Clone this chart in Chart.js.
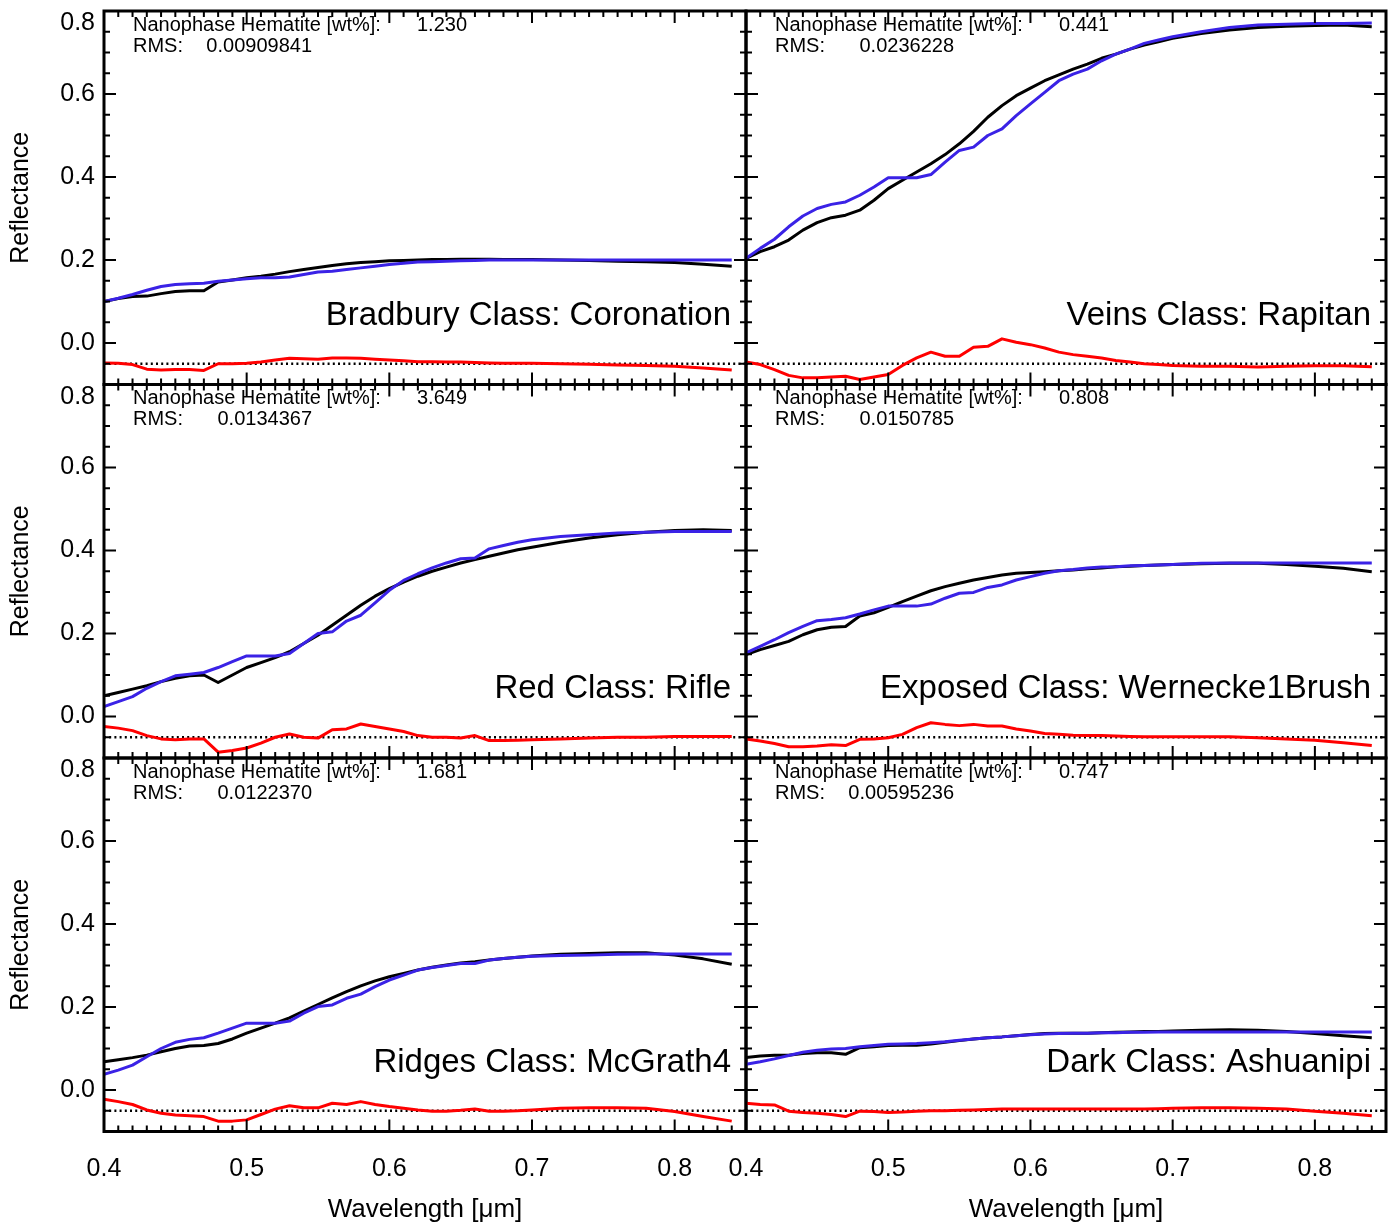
<!DOCTYPE html>
<html>
<head>
<meta charset="utf-8">
<script src="https://cdn.jsdelivr.net/npm/chart.js@4.4.1/dist/chart.umd.min.js"></script>
<style>
  html, body { margin: 0; padding: 0; background: #fff; }
  #wrap { position: relative; width: 1397px; height: 1225px; }
  #wrap canvas { position: absolute; left: 0; top: 0; }
</style>
</head>
<body>
<div id="wrap"></div>
<script>
// wavelength grid [um]
const wavelength = [0.40,0.41,0.42,0.43,0.44,0.45,0.46,0.47,0.48,0.49,0.50,0.51,0.52,0.53,0.54,0.55,0.56,0.57,0.58,0.59,0.60,0.61,0.62,0.63,0.64,0.65,0.66,0.67,0.68,0.69,0.70,0.72,0.74,0.76,0.78,0.80,0.82,0.84];

// Bradbury Class: Coronation
const coronationMeasured = [0.100,0.107,0.112,0.113,0.119,0.124,0.126,0.126,0.147,0.152,0.157,0.161,0.166,0.172,0.177,0.182,0.187,0.191,0.194,0.196,0.198,0.199,0.200,0.201,0.201,0.202,0.202,0.202,0.201,0.201,0.201,0.200,0.199,0.197,0.196,0.194,0.190,0.185];
const coronationModel    = [0.100,0.108,0.117,0.127,0.136,0.141,0.143,0.144,0.149,0.152,0.155,0.157,0.157,0.159,0.165,0.171,0.173,0.177,0.181,0.185,0.189,0.192,0.195,0.196,0.197,0.198,0.199,0.200,0.200,0.200,0.200,0.200,0.200,0.200,0.200,0.200,0.200,0.200];
const coronationResidual = [-0.048,-0.049,-0.052,-0.063,-0.065,-0.064,-0.064,-0.066,-0.050,-0.050,-0.049,-0.046,-0.041,-0.037,-0.038,-0.039,-0.036,-0.036,-0.037,-0.039,-0.041,-0.043,-0.045,-0.045,-0.046,-0.046,-0.047,-0.048,-0.049,-0.049,-0.049,-0.050,-0.051,-0.053,-0.054,-0.056,-0.060,-0.065];

// Veins Class: Rapitan
const rapitanMeasured = [0.204,0.220,0.232,0.248,0.272,0.290,0.302,0.308,0.320,0.344,0.372,0.392,0.412,0.432,0.454,0.480,0.510,0.544,0.572,0.596,0.614,0.632,0.646,0.660,0.672,0.686,0.696,0.708,0.718,0.726,0.734,0.746,0.754,0.760,0.763,0.765,0.766,0.762];
const rapitanModel    = [0.204,0.228,0.250,0.280,0.306,0.324,0.334,0.340,0.356,0.376,0.398,0.398,0.398,0.406,0.436,0.464,0.472,0.500,0.516,0.548,0.576,0.604,0.632,0.648,0.660,0.680,0.696,0.708,0.722,0.730,0.738,0.750,0.760,0.766,0.768,0.770,0.770,0.771];
const rapitanResidual = [-0.046,-0.052,-0.064,-0.078,-0.084,-0.084,-0.082,-0.080,-0.088,-0.082,-0.076,-0.054,-0.036,-0.022,-0.032,-0.032,-0.010,-0.008,0.010,0.002,-0.004,-0.012,-0.022,-0.028,-0.032,-0.036,-0.042,-0.046,-0.050,-0.052,-0.054,-0.056,-0.056,-0.058,-0.056,-0.055,-0.055,-0.057];

// Red Class: Rifle
const rifleMeasured = [0.050,0.058,0.066,0.074,0.084,0.092,0.098,0.100,0.082,0.100,0.118,0.130,0.142,0.156,0.176,0.196,0.220,0.244,0.268,0.290,0.308,0.324,0.338,0.350,0.360,0.370,0.378,0.386,0.394,0.402,0.408,0.420,0.430,0.438,0.444,0.448,0.450,0.448];
const rifleModel    = [0.024,0.036,0.048,0.068,0.084,0.098,0.102,0.106,0.118,0.132,0.146,0.146,0.146,0.152,0.176,0.200,0.204,0.230,0.244,0.274,0.304,0.328,0.344,0.358,0.370,0.380,0.382,0.404,0.412,0.420,0.426,0.434,0.438,0.442,0.444,0.446,0.446,0.446];
const rifleResidual = [-0.024,-0.028,-0.034,-0.046,-0.054,-0.056,-0.054,-0.054,-0.086,-0.082,-0.076,-0.064,-0.050,-0.042,-0.050,-0.052,-0.032,-0.030,-0.018,-0.024,-0.030,-0.036,-0.046,-0.050,-0.050,-0.052,-0.046,-0.058,-0.058,-0.057,-0.056,-0.054,-0.052,-0.050,-0.050,-0.048,-0.048,-0.048];

// Exposed Class: Wernecke1Brush
const werneckeMeasured = [0.149,0.161,0.171,0.181,0.197,0.209,0.215,0.217,0.242,0.250,0.263,0.277,0.290,0.303,0.313,0.321,0.329,0.335,0.341,0.345,0.347,0.349,0.351,0.353,0.356,0.358,0.361,0.362,0.364,0.365,0.366,0.368,0.369,0.369,0.366,0.362,0.357,0.349];
const werneckeModel    = [0.153,0.169,0.185,0.202,0.217,0.231,0.234,0.238,0.247,0.257,0.266,0.266,0.266,0.271,0.285,0.297,0.299,0.311,0.317,0.329,0.337,0.345,0.351,0.354,0.358,0.360,0.361,0.363,0.364,0.365,0.366,0.369,0.370,0.370,0.370,0.370,0.370,0.370];
const werneckeResidual = [-0.054,-0.059,-0.065,-0.073,-0.073,-0.071,-0.068,-0.070,-0.055,-0.054,-0.051,-0.043,-0.027,-0.015,-0.019,-0.022,-0.019,-0.023,-0.023,-0.030,-0.035,-0.041,-0.043,-0.045,-0.046,-0.046,-0.047,-0.048,-0.049,-0.049,-0.049,-0.049,-0.049,-0.051,-0.054,-0.057,-0.063,-0.070];

// Ridges Class: McGrath4
const mcgrathMeasured = [0.068,0.073,0.078,0.084,0.092,0.100,0.106,0.107,0.112,0.123,0.137,0.149,0.161,0.174,0.190,0.206,0.222,0.237,0.251,0.263,0.273,0.281,0.289,0.296,0.301,0.306,0.309,0.313,0.317,0.320,0.323,0.327,0.329,0.331,0.331,0.325,0.316,0.303];
const mcgrathModel    = [0.038,0.048,0.060,0.080,0.100,0.115,0.122,0.126,0.137,0.149,0.161,0.161,0.161,0.166,0.185,0.201,0.205,0.221,0.231,0.249,0.265,0.277,0.289,0.295,0.300,0.305,0.305,0.313,0.317,0.320,0.322,0.324,0.325,0.327,0.328,0.328,0.328,0.328];
const mcgrathResidual = [-0.022,-0.028,-0.035,-0.048,-0.056,-0.060,-0.062,-0.064,-0.075,-0.075,-0.072,-0.059,-0.046,-0.038,-0.043,-0.043,-0.032,-0.035,-0.028,-0.035,-0.040,-0.044,-0.048,-0.051,-0.051,-0.049,-0.046,-0.051,-0.051,-0.050,-0.048,-0.044,-0.043,-0.043,-0.044,-0.052,-0.064,-0.075];

// Dark Class: Ashuanipi
const ashuanipiMeasured = [0.078,0.082,0.084,0.084,0.088,0.090,0.090,0.086,0.102,0.104,0.107,0.108,0.108,0.111,0.115,0.119,0.123,0.126,0.128,0.131,0.134,0.136,0.137,0.137,0.137,0.138,0.139,0.140,0.141,0.141,0.142,0.144,0.145,0.144,0.141,0.136,0.131,0.126];
const ashuanipiModel    = [0.062,0.068,0.075,0.083,0.091,0.096,0.099,0.100,0.104,0.107,0.110,0.111,0.112,0.114,0.116,0.120,0.123,0.126,0.128,0.131,0.133,0.135,0.136,0.137,0.137,0.138,0.138,0.139,0.139,0.140,0.140,0.140,0.140,0.140,0.140,0.140,0.140,0.140];
const ashuanipiResidual = [-0.032,-0.035,-0.036,-0.051,-0.054,-0.056,-0.059,-0.064,-0.051,-0.052,-0.054,-0.053,-0.051,-0.050,-0.050,-0.049,-0.048,-0.047,-0.046,-0.046,-0.046,-0.046,-0.046,-0.046,-0.046,-0.046,-0.046,-0.046,-0.046,-0.045,-0.044,-0.043,-0.043,-0.044,-0.046,-0.051,-0.056,-0.062];

// panel order: row by row, left then right
const classNames = ['Bradbury Class: Coronation', 'Veins Class: Rapitan', 'Red Class: Rifle',
                    'Exposed Class: Wernecke1Brush', 'Ridges Class: McGrath4', 'Dark Class: Ashuanipi'];
const hematiteWt = ['1.230', '0.441', '3.649', '0.808', '1.681', '0.747'];
const rmsText = ['0.00909841', '0.0236228', '0.0134367', '0.0150785', '0.0122370', '0.00595236'];
const measured = [coronationMeasured, rapitanMeasured, rifleMeasured, werneckeMeasured, mcgrathMeasured, ashuanipiMeasured];
const model = [coronationModel, rapitanModel, rifleModel, werneckeModel, mcgrathModel, ashuanipiModel];
const residual = [coronationResidual, rapitanResidual, rifleResidual, werneckeResidual, mcgrathResidual, ashuanipiResidual];

const xMin = 0.4, xMax = 0.85, yMin = -0.1, yMax = 0.8;
const zeroLevel = -0.05;       // dotted reference line of the residual
const labelLevel = 0.066;      // where the class name sits

const W = 1397, H = 1225;
const colLeft = [104, 746], colRight = [746, 1386];
const rowTop = [11, 384.5, 758], rowHeight = 373.5;
const FONT = "'Liberation Sans', Arial, Helvetica, sans-serif";

Chart.defaults.font.family = FONT;
Chart.defaults.color = '#000';

const toXY = (vals) => wavelength.map((w, i) => ({x: w, y: vals[i]}));

function framePlugin(idx, showYLabels) {
  return {
    id: 'frame' + idx,
    afterDatasetsDraw(chart) {
      const {ctx, chartArea: a, scales: {x, y}} = chart;
      ctx.save();
      ctx.strokeStyle = '#000';
      ctx.fillStyle = '#000';
      ctx.lineCap = 'butt';

      // inward ticks on all four sides, IDL style
      ctx.lineWidth = 2;
      ctx.beginPath();
      for (let k = -2; k <= 16; k++) {
        const py = y.getPixelForValue(k * 0.05);
        const len = k % 4 === 0 ? 12 : 6;
        ctx.moveTo(a.left, py); ctx.lineTo(a.left + len, py);
        ctx.moveTo(a.right, py); ctx.lineTo(a.right - len, py);
      }
      for (let k = 40; k <= 85; k++) {
        const px = x.getPixelForValue(k / 100);
        const len = k % 10 === 0 ? 12 : 6;
        ctx.moveTo(px, a.bottom); ctx.lineTo(px, a.bottom - len);
        ctx.moveTo(px, a.top); ctx.lineTo(px, a.top + len);
      }
      ctx.stroke();

      ctx.lineWidth = 3;
      ctx.strokeRect(a.left, a.top, a.right - a.left, a.bottom - a.top);

      // top y label sits a bit lower so it stays inside its panel
      if (showYLabels) {
        ctx.font = '25px ' + FONT;
        ctx.textAlign = 'right';
        ctx.textBaseline = 'middle';
        ctx.fillText('0.8', a.left - 9, y.getPixelForValue(yMax) + 12.5);
      }

      ctx.font = '20px ' + FONT;
      ctx.textAlign = 'left';
      ctx.textBaseline = 'middle';
      ctx.fillText('Nanophase Hematite [wt%]:', a.left + 29, a.top + 14);
      ctx.fillText(hematiteWt[idx], a.left + 313, a.top + 14);
      ctx.fillText('RMS:', a.left + 29, a.top + 35);
      ctx.textAlign = 'right';
      ctx.fillText(rmsText[idx], a.left + 208, a.top + 35);

      ctx.font = '33px ' + FONT;
      ctx.fillText(classNames[idx], a.right - 15, y.getPixelForValue(labelLevel));
      ctx.restore();
    }
  };
}

const wrap = document.getElementById('wrap');

for (let idx = 0; idx < 6; idx++) {
  const row = Math.floor(idx / 2), col = idx % 2;
  const L = colLeft[col], R = colRight[col];
  const T = rowTop[row], B = rowTop[row] + rowHeight;
  const showY = col === 0, showX = row === 2;
  const yW = showY ? L : 0;
  const xH = showX ? H - B : 0;

  const canvas = document.createElement('canvas');
  canvas.width = W; canvas.height = H;
  canvas.style.width = W + 'px'; canvas.style.height = H + 'px';
  wrap.appendChild(canvas);

  new Chart(canvas, {
    type: 'line',
    data: {
      datasets: [
        {data: toXY(residual[idx]), borderColor: '#ff0000', borderWidth: 3},
        {data: toXY(model[idx]), borderColor: '#3a22e6', borderWidth: 3},
        {data: toXY(measured[idx]), borderColor: '#000000', borderWidth: 3},
        {data: [{x: xMin, y: zeroLevel}, {x: xMax, y: zeroLevel}], borderColor: '#000000',
         borderWidth: 2.5, borderDash: [2, 3.2]}
      ]
    },
    options: {
      responsive: false,
      animation: false,
      devicePixelRatio: 1,
      events: [],
      layout: {padding: {left: L - yW, right: W - R, top: T, bottom: H - B - xH}},
      elements: {
        point: {radius: 0},
        line: {tension: 0, borderJoinStyle: 'round', borderCapStyle: 'butt', fill: false}
      },
      plugins: {legend: {display: false}, tooltip: {enabled: false}},
      scales: {
        x: {
          type: 'linear', min: xMin, max: xMax,
          display: showX,
          grid: {display: false, drawTicks: false},
          border: {display: false},
          ticks: {stepSize: 0.1, includeBounds: false, padding: 23, maxRotation: 0,
                  font: {size: 25}, color: '#000',
                  callback: (v) => v.toFixed(1)},
          title: {display: true, text: 'Wavelength [μm]', font: {size: 26}, color: '#000',
                  padding: {top: 0, bottom: 0}},
          afterFit: (s) => { s.height = xH; s.paddingLeft = 0; s.paddingRight = 0; }
        },
        y: {
          type: 'linear', min: yMin, max: yMax,
          display: showY,
          grid: {display: false, drawTicks: false},
          border: {display: false},
          ticks: {stepSize: 0.2, includeBounds: false, padding: 9,
                  font: {size: 25}, color: '#000',
                  callback: (v) => Math.abs(v - yMax) < 1e-9 ? '' : v.toFixed(1)},
          title: {display: true, text: 'Reflectance', font: {size: 25}, color: '#000',
                  padding: {top: 6, bottom: 0}},
          afterFit: (s) => { s.width = yW; s.paddingTop = 0; s.paddingBottom = 0; }
        }
      }
    },
    plugins: [framePlugin(idx, showY)]
  });
}
</script>
</body>
</html>
